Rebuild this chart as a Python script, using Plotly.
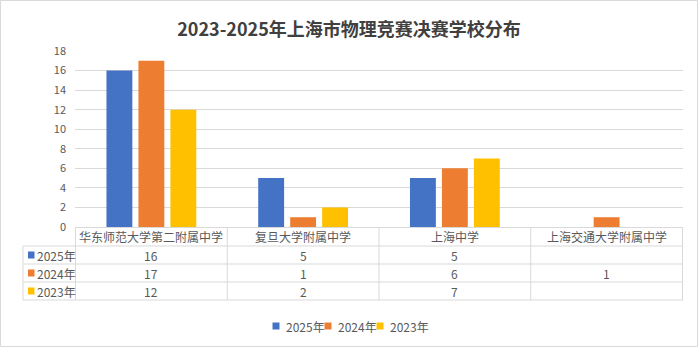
import plotly.graph_objects as go

schools = ["华东师范大学第二附属中学", "复旦大学附属中学", "上海中学", "上海交通大学附属中学"]
years = ["2025年", "2024年", "2023年"]
v2025 = [16, 5, 5, None]
v2024 = [17, 1, 6, 1]
v2023 = [12, 2, 7, None]
series = [v2025, v2024, v2023]
colors = ["#4472C4", "#ED7D31", "#FFC000"]
title = "2023-2025年上海市物理竞赛决赛学校分布"

W, H = 698, 347
L, R, T, B = 75, 15, 51, 120
PW, PH = W - L - R, H - T - B
FONT = "Noto Sans CJK SC, Microsoft YaHei, sans-serif"
GRAY = "#595959"
LINE = "#d9d9d9"


def px(xp):
    return (xp - L) / PW


def py(yp):
    return (H - B - yp) / PH


fig = go.Figure()
for name, vals, c in zip(years, series, colors):
    fig.add_trace(go.Bar(x=schools, y=vals, name=name, marker=dict(color=c, line=dict(width=0)),
                         showlegend=False))

shapes = []
annotations = []

# table geometry (pixel rows)
row_edges = [227, 246, 264, 282, 300]
left_x = 23
# horizontal lines
for i, ye in enumerate(row_edges[1:]):
    shapes.append(dict(type="line", xref="paper", yref="paper", x0=px(left_x), x1=1,
                       y0=py(ye), y1=py(ye), line=dict(color=LINE, width=1)))
# vertical lines
shapes.append(dict(type="line", xref="paper", yref="paper", x0=px(left_x), x1=px(left_x),
                   y0=py(246), y1=py(300), line=dict(color=LINE, width=1)))
for k in range(len(schools) + 1):
    shapes.append(dict(type="line", xref="x", yref="paper", x0=k - 0.5, x1=k - 0.5,
                       y0=py(227), y1=py(300), line=dict(color=LINE, width=1)))

# header labels
for s in schools:
    annotations.append(dict(x=s, xref="x", y=py(236.5), yref="paper", text=s, showarrow=False,
                            font=dict(family=FONT, size=12, color=GRAY), xanchor="center", yanchor="middle"))
# rows
for r, (name, vals, c) in enumerate(zip(years, series, colors)):
    yc = (row_edges[r + 1] + row_edges[r + 2]) / 2
    shapes.append(dict(type="rect", xref="paper", yref="paper", x0=px(28), x1=px(34.5),
                       y0=py(yc + 3.5), y1=py(yc - 3.5), fillcolor=c, line=dict(width=0)))
    annotations.append(dict(x=px(35), xref="paper", y=py(yc), yref="paper", text=name, showarrow=False,
                            font=dict(family=FONT, size=12, color=GRAY), xanchor="left", yanchor="middle"))
    for s, v in zip(schools, vals):
        if v is None:
            continue
        annotations.append(dict(x=s, xref="x", y=py(yc), yref="paper", text=str(v), showarrow=False,
                                font=dict(family=FONT, size=12, color=GRAY), xanchor="center", yanchor="middle"))

# custom legend
leg_x = [272.5, 324.5, 376.5]
for name, c, lx in zip(years, colors, leg_x):
    shapes.append(dict(type="rect", xref="paper", yref="paper", x0=px(lx), x1=px(lx + 7),
                       y0=py(329.5), y1=py(322.5), fillcolor=c, line=dict(width=0)))
    annotations.append(dict(x=px(lx + 11), xref="paper", y=py(326), yref="paper", text=name, showarrow=False,
                            font=dict(family=FONT, size=12, color=GRAY), xanchor="left", yanchor="middle"))

# outer border
shapes.append(dict(type="rect", xref="paper", yref="paper", x0=px(0.5), x1=px(697.5),
                   y0=py(346.5), y1=py(0.5), line=dict(color=LINE, width=1), fillcolor="rgba(0,0,0,0)"))

fig.update_layout(
    width=W, height=H,
    margin=dict(l=L, r=R, t=T, b=B, pad=0),
    paper_bgcolor="white", plot_bgcolor="white",
    barmode="group", bargap=0.368, bargroupgap=0.19,
    title=dict(text=title, x=0.5, xanchor="center", y=1 - 30 / H, yanchor="middle", yref="container",
               font=dict(family=FONT, size=18, color="#404040", weight="bold")),
    xaxis=dict(showticklabels=False, showline=True, linecolor=LINE, linewidth=1, ticks="",
               showgrid=False, zeroline=False, fixedrange=True),
    yaxis=dict(range=[0, 18], dtick=2, showgrid=True, gridcolor=LINE, gridwidth=1, zeroline=False,
               showline=False, ticks="", ticklabelstandoff=8,
               tickfont=dict(family=FONT, size=11, color=GRAY)),
    shapes=shapes, annotations=annotations, showlegend=False,
)

fig.write_html("out.html")
